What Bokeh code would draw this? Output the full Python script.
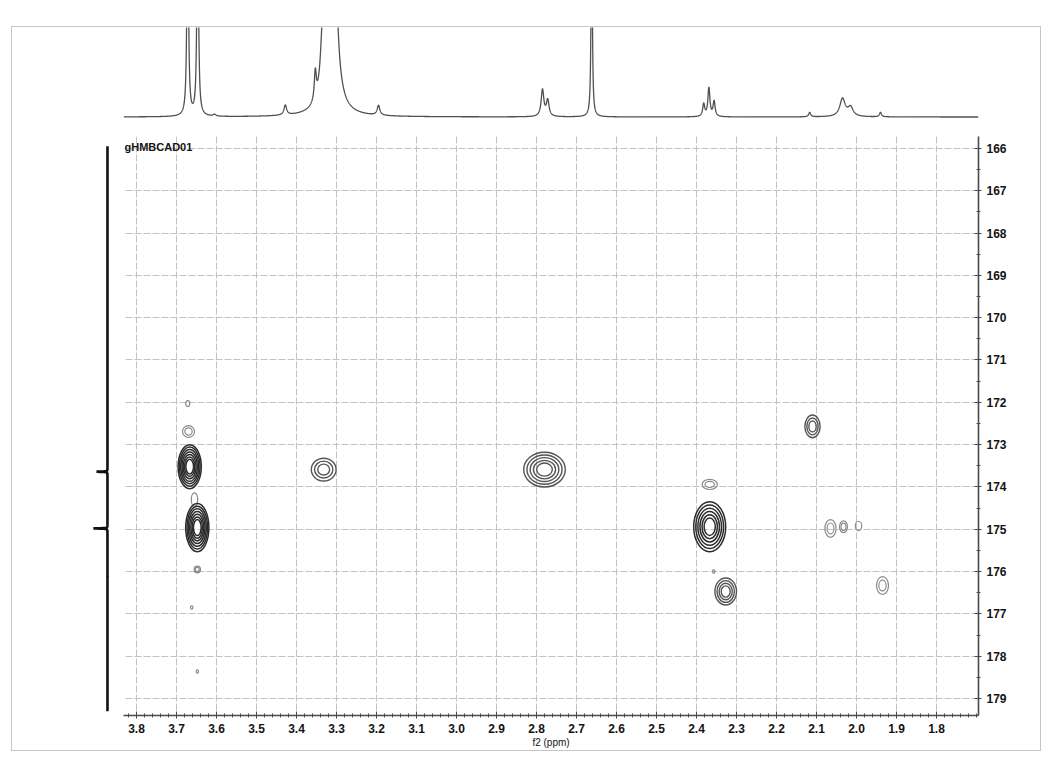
import numpy as np
from math import pi
from bokeh.plotting import figure
from bokeh.models import Range1d, FixedTicker, Label
from bokeh.layouts import column, row
from bokeh.embed import file_html
from bokeh.resources import INLINE

# ---------------- data ----------------
# f2 (1H) axis ticks and f1 (13C) axis ticks
f2_ticks = [3.8, 3.7, 3.6, 3.5, 3.4, 3.3, 3.2, 3.1, 3.0, 2.9, 2.8, 2.7, 2.6, 2.5, 2.4, 2.3, 2.2, 2.1, 2.0, 1.9, 1.8]
f1_ticks = [166, 167, 168, 169, 170, 171, 172, 173, 174, 175, 176, 177, 178, 179]

# 1H projection (top): peak position (ppm), relative height (1 = clip), half width (ppm)
h_ppm   = [3.672, 3.647, 3.605, 3.428, 3.353, 3.335, 3.312, 3.195, 2.785, 2.772, 2.662,
           2.382, 2.369, 2.356, 2.117, 2.035, 2.015, 1.940]
h_int   = [3.0, 3.0, 0.02, 0.11, 0.32, 0.6, 8.0, 0.11, 0.30, 0.18, 3.0,
           0.14, 0.32, 0.17, 0.05, 0.20, 0.10, 0.05]
h_width = [0.002, 0.002, 0.004, 0.004, 0.003, 0.006, 0.006, 0.004, 0.004, 0.004, 0.0015,
           0.003, 0.003, 0.003, 0.003, 0.008, 0.008, 0.003]

# 13C projection (left): peak position (ppm), relative height, half width (ppm)
c_ppm   = [173.64, 174.98]
c_int   = [0.42, 0.54]
c_width = [0.005, 0.005]

# HMBC cross peaks: f2 (ppm), f1 (ppm), half extents (ppm), number of contour levels
cp_f2     = [3.672, 3.670, 3.667, 3.655, 3.648, 3.648, 3.662, 3.648, 3.332, 2.780, 2.110,
             2.367, 2.367, 2.357, 2.327, 2.065, 2.0325, 1.995, 1.935]
cp_f1     = [172.03, 172.69, 173.52, 174.30, 174.96, 175.95, 176.85, 178.36, 173.59, 173.59, 172.57,
             173.94, 174.94, 176.00, 176.47, 174.98, 174.94, 174.92, 176.33]
cp_hw     = [0.005, 0.015, 0.029, 0.008, 0.029, 0.008, 0.003, 0.003, 0.031, 0.052, 0.019,
             0.019, 0.040, 0.003, 0.027, 0.014, 0.010, 0.008, 0.015]
cp_hh     = [0.07, 0.14, 0.52, 0.16, 0.57, 0.08, 0.04, 0.04, 0.27, 0.41, 0.27,
             0.12, 0.59, 0.04, 0.32, 0.21, 0.14, 0.11, 0.21]
cp_levels = [1, 2, 7, 1, 7, 2, 1, 1, 3, 5, 3, 2, 6, 1, 4, 2, 2, 1, 2]

# ---------------- geometry ----------------
X_LEFT, X_RIGHT = 3.8325, 1.695
Y_BOTTOM, Y_TOP = 179.40, 165.72
FW, FH = 855, 579

xr = Range1d(X_LEFT, X_RIGHT)
yr = Range1d(Y_BOTTOM, Y_TOP)

FONT = "Liberation Sans"
TXT = "#141414"
AX = "#4a4a4a"

# ---------------- top 1D spectrum ----------------
top = figure(frame_width=FW, frame_height=94, x_range=xr, y_range=Range1d(-0.05, 1.0),
             min_border_left=111, min_border_right=62, min_border_top=0, min_border_bottom=2,
             x_axis_location=None, y_axis_location=None, toolbar_location=None,
             output_backend="svg", title=None)
top.grid.visible = False
top.outline_line_color = None
xs = np.arange(X_RIGHT, X_LEFT, 0.0004)
ys = np.zeros_like(xs)
for c, a, w in zip(h_ppm, h_int, h_width):
    ys += a / (1.0 + ((xs - c) / w) ** 2)
top.line(xs, ys, line_color="#505050", line_width=1.3)

# ---------------- left 1D projection ----------------
left = figure(frame_width=40, frame_height=FH, x_range=Range1d(1.0, -0.54), y_range=yr,
              min_border_left=69, min_border_right=2, min_border_top=13, min_border_bottom=34,
              x_axis_location=None, y_axis_location=None, toolbar_location=None,
              output_backend="svg", title=None)
left.grid.visible = False
left.outline_line_color = None
cy = np.arange(165.95, 179.30, 0.001)
cx = np.zeros_like(cy)
for c, a, w in zip(c_ppm, c_int, c_width):
    cx += a / (1.0 + ((cy - c) / w) ** 2)
left.line(cx, cy, line_color="#111111", line_width=2.6)

# ---------------- main 2D HMBC ----------------
main = figure(frame_width=FW, frame_height=FH, x_range=xr, y_range=yr,
              min_border_left=0, min_border_right=62, min_border_top=13, min_border_bottom=34,
              x_axis_location="below", y_axis_location="right", toolbar_location=None,
              output_backend="svg", title=None)
main.outline_line_color = None
main.background_fill_color = "white"

xa = main.xaxis[0]
xa.ticker = FixedTicker(ticks=f2_ticks, minor_ticks=[round(3.82 - 0.02 * i, 2) for i in range(107)])
xa.major_label_overrides = {t: f"{t:.1f}" for t in f2_ticks}
xa.axis_label = "f2 (ppm)"
xa.axis_label_text_font = FONT
xa.axis_label_text_font_style = "normal"
xa.axis_label_text_font_size = "10px"
xa.axis_label_text_color = TXT
xa.axis_label_standoff = 1
ya = main.yaxis[0]
ya.ticker = FixedTicker(ticks=f1_ticks, minor_ticks=[165.5 + 0.5 * i for i in range(29)])
for ax in (xa, ya):
    ax.major_label_text_font = FONT
    ax.major_label_text_font_style = "bold"
    ax.major_label_text_font_size = "12px"
    ax.major_label_text_color = TXT
    ax.axis_line_color = AX
    ax.axis_line_width = 1.6
    ax.major_tick_line_color = AX
    ax.minor_tick_line_color = AX
    ax.major_tick_in = 4
    ax.major_tick_out = 3
    ax.minor_tick_in = 2
    ax.minor_tick_out = 2
    ax.major_label_standoff = 5

for g in (main.xgrid[0], main.ygrid[0]):
    g.grid_line_color = "#c2c2c2"
    g.grid_line_dash = "7 2"
    g.grid_line_width = 1

# contour rings built from cross-peak table
ex, ey, ew, eh, ec, elw = [], [], [], [], [], []
for f2, f1, hw, hh, n in zip(cp_f2, cp_f1, cp_hw, cp_hh, cp_levels):
    if n >= 6:
        col, lw = "#2c2c2c", 1.5
    elif n >= 3:
        col, lw = "#555555", 1.4
    else:
        col, lw = "#8a8a8a", 1.2
    for k in range(n):
        s = 1.0 - 0.78 * k / max(n, 1)
        ex.append(f2); ey.append(f1)
        ew.append(2 * hw * s); eh.append(2 * hh * s)
        ec.append(col); elw.append(lw)
main.ellipse(x=ex, y=ey, width=ew, height=eh, fill_color=None,
             line_color=ec, line_width=elw)

main.add_layout(Label(x=X_LEFT, y=165.97, x_offset=1, text="gHMBCAD01",
                      text_font=FONT, text_font_style="bold", text_font_size="11px",
                      text_color=TXT, text_baseline="middle", text_align="left"))
main.add_layout(Label(x=X_RIGHT, y=172.34, x_offset=38, text="f1 (ppm)", angle=pi / 2,
                      text_font=FONT, text_font_size="10px", text_color=TXT,
                      text_baseline="middle", text_align="center"))

layout = column(top, row(left, main), margin=(26, 0, 0, 11),
                styles={"border": "1px solid #c6c6c6"})

open("out.html", "w").write(file_html(layout, INLINE))
